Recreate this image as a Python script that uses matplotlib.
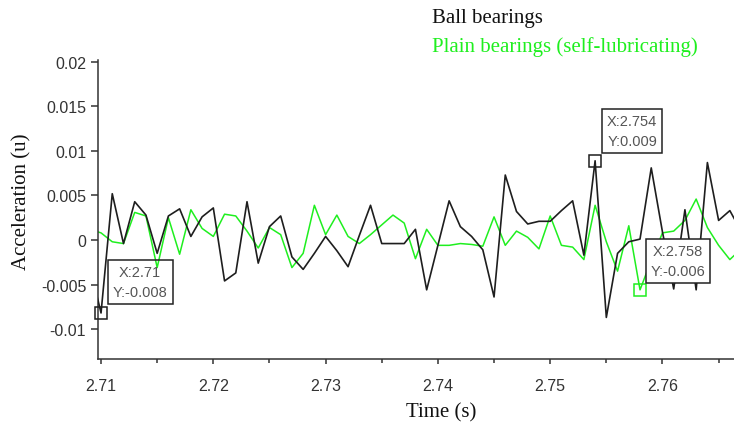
import numpy as np
import matplotlib
matplotlib.use('Agg')
import matplotlib.pyplot as plt
from matplotlib.ticker import MultipleLocator, FuncFormatter

# time axis, one sample per ms
t = np.round(np.arange(2.709, 2.7675, 0.001), 3)

ball = [-0.0029, -0.0082, 0.0052, -0.0004, 0.0043, 0.0028, -0.0015, 0.0027, 0.0035, 0.0004,
        0.0026, 0.0036, -0.0046, -0.0037, 0.0043, -0.0026, 0.0015, 0.0027, -0.0019, -0.0033,
        -0.0015, 0.0004, -0.0012, -0.0030, 0.0005, 0.0039, -0.0004, -0.0004, -0.0004, 0.0012,
        -0.0056, -0.0006, 0.0044, 0.0015, 0.0004, -0.0011, -0.0064, 0.0073, 0.0032, 0.0018,
        0.0021, 0.0021, 0.0033, 0.0044, -0.0017, 0.0089, -0.0087, -0.0015, -0.0002, 0.0001,
        0.0081, 0.0009, -0.0055, 0.0034, -0.0056, 0.0087, 0.0022, 0.0033, 0.0010]

plain = [0.0012, 0.0008, -0.0002, -0.0004, 0.0031, 0.0027, -0.0031, 0.0025, -0.0016, 0.0034,
         0.0013, 0.0004, 0.0029, 0.0027, 0.0010, -0.0009, 0.0014, 0.0006, -0.0031, -0.0015,
         0.0039, 0.0006, 0.0028, 0.0004, -0.0004, 0.0006, 0.0017, 0.0028, 0.0019, -0.0021,
         0.0012, -0.0006, -0.0006, -0.0004, -0.0005, -0.0007, 0.0026, -0.0006, 0.0010, 0.0003,
         -0.0010, 0.0027, -0.0006, -0.0008, -0.0022, 0.0039, -0.0002, -0.0035, 0.0016, -0.0056,
         -0.0023, 0.0008, 0.0010, 0.0022, 0.0046, 0.0014, -0.0006, -0.0022, -0.0010]

series_names = ['Ball bearings', 'Plain bearings (self-lubricating)']
# data tips: (series index, time)
tips = [(0, 2.710), (0, 2.754), (1, 2.758)]

black = '#1e1e1e'
green = '#1fef1f'
tickcol = '#333333'

fig = plt.figure(figsize=(7.34, 4.27), dpi=100)
ax = fig.add_axes([98/734, 67/427, 636/734, 298.8/427])

ax.plot(t, ball, color=black, lw=1.2, zorder=3)
ax.plot(t, plain, color=green, lw=1.1, zorder=2)

ax.set_xlim(2.70973, 2.76637)
ax.set_ylim(-0.01337, 0.0202)

ax.xaxis.set_major_locator(MultipleLocator(0.01))
ax.xaxis.set_minor_locator(MultipleLocator(0.005))
ax.yaxis.set_major_locator(MultipleLocator(0.005))
ax.xaxis.set_major_formatter(FuncFormatter(lambda v, p: '%g' % round(v, 3)))
ax.yaxis.set_major_formatter(FuncFormatter(lambda v, p: '%g' % round(v, 4)))

for s in ['top', 'right']:
    ax.spines[s].set_visible(False)
for s in ['left', 'bottom']:
    ax.spines[s].set_linewidth(1.1)
    ax.spines[s].set_color(tickcol)

ax.tick_params(axis='y', which='major', length=5, width=1.1, color=tickcol, pad=3.5,
               labelsize=11.5, labelcolor=tickcol)
ax.tick_params(axis='x', which='major', length=3.6, width=1.1, color=tickcol, pad=10,
               labelsize=11.5, labelcolor=tickcol)
ax.tick_params(axis='x', which='minor', length=3, width=1.1, color=tickcol)
for lab in ax.get_xticklabels() + ax.get_yticklabels():
    lab.set_fontfamily('Liberation Sans')

serif = 'Liberation Serif'
ax.set_ylabel('Acceleration (u)', fontfamily=serif, fontsize=15, color='#111111')
ax.yaxis.set_label_coords(-0.105, 0.529)
ax.set_xlabel('Time (s)', fontfamily=serif, fontsize=15, color='#111111')
ax.xaxis.set_label_coords(0.539, -0.145)

# text-only legend
fig.text(432/734, 1 - 23.5/427, series_names[0], fontfamily=serif, fontsize=15,
         color='#111111', va='baseline')
fig.text(432/734, 1 - 52/427, series_names[1], fontfamily=serif, fontsize=15,
         color=green, va='baseline')

data = [ball, plain]
colors = [black, green]
offsets = [(39, 31), (37, 30), (38, 29)]
fills = ['none', 'white', 'white']
for (si, tt), off, fc in zip(tips, offsets, fills):
    i = int(np.argmin(np.abs(t - tt)))
    x, y = t[i], data[si][i]
    ax.plot([x], [y], marker='s', ms=8.6, mfc='none', mec=colors[si], mew=1.1,
            zorder=4, clip_on=False)
    ax.annotate('X:%g\nY:%.3f' % (x, y), xy=(x, y), xytext=off,
                textcoords='offset pixels', ha='center', va='center',
                multialignment='center', fontsize=10.5, fontfamily='Liberation Sans',
                color='#555555', linespacing=1.55, zorder=5,
                bbox=dict(boxstyle='square,pad=0.35', fc=fc, ec='#222222', lw=1.1))

fig.savefig('out.png', dpi=100)
